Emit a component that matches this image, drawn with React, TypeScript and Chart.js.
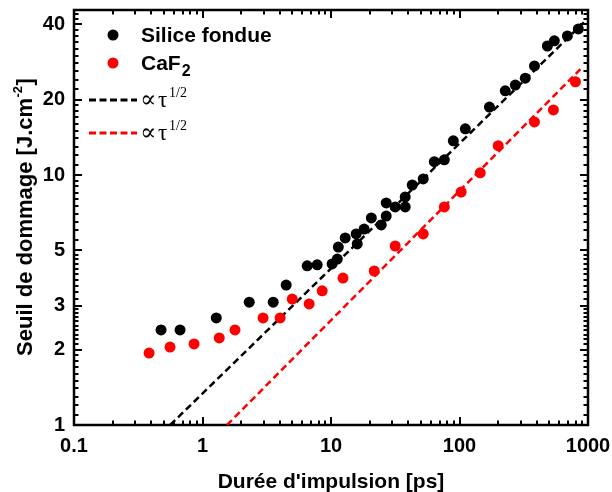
import React, { useEffect, useRef } from "react";
import { Chart, registerables } from "chart.js";
Chart.register(...registerables);

// ---- data ----
const silicaTau = [0.476, 0.669, 1.28, 2.31, 3.55, 4.48, 6.53, 7.81, 10.2, 11.2, 11.4, 12.9, 16.0, 15.7, 18.1, 20.6, 24.6, 26.9, 26.9, 31.6, 37.8, 37.8, 42.9, 52.2, 63.7, 76.2, 89.5, 111, 171, 227, 272, 325, 383, 483, 547, 691, 841];
const silicaF = [2.40, 2.40, 2.68, 3.10, 3.10, 3.63, 4.33, 4.37, 4.41, 4.61, 5.15, 5.60, 5.30, 5.81, 6.08, 6.73, 6.31, 6.85, 7.73, 7.45, 7.45, 8.17, 9.12, 9.64, 11.3, 11.5, 13.7, 15.3, 18.7, 21.7, 22.9, 24.4, 27.3, 32.8, 34.4, 36.0, 38.4];
const caf2Tau = [0.384, 0.559, 0.860, 1.35, 1.79, 2.96, 4.02, 4.99, 6.76, 8.54, 12.4, 21.7, 31.6, 52.2, 76.2, 103, 145, 200, 383, 538, 798];
const caf2F = [1.94, 2.05, 2.11, 2.23, 2.40, 2.68, 2.68, 3.19, 3.05, 3.44, 3.87, 4.13, 5.20, 5.81, 7.45, 8.55, 10.2, 13.1, 16.3, 18.2, 23.6];

const fitSilicaTau = [0.56, 930];
const fitSilicaF = [1.0, 40.8];
const fitCaf2Tau = [1.55, 873];
const fitCaf2F = [1.0, 26.5];

const xTicks = [0.1, 1, 10, 100, 1000];
const yTicks = [1, 2, 3, 5, 10, 20, 40];
const xMin = 0.1, xMax = 1000, yMin = 1, yMax = 45.7;

const seriesLabels = ["Silice fondue", "CaF", "2"];
const xTitle = "Durée d'impulsion [ps]";
const yTitleMain = "Seuil de dommage [J.cm";
const yTitleSup = "-2";
const yTitleEnd = "]";

function pts(xs: number[], ys: number[]) {
  return xs.map((x, i) => ({ x, y: ys[i] }));
}

function xMinorTicks() {
  const out: number[] = [];
  [0.1, 1, 10, 100].forEach((d) => {
    for (let m = 2; m <= 9; m++) out.push(d * m);
  });
  return out;
}
function yMinorTicks() {
  const out: number[] = [];
  const ranges: [number, number, number][] = [
    [1, 3, 0.1],
    [3, 5, 0.2],
    [5, 10, 0.5],
    [10, 20, 1],
    [20, 46, 2],
  ];
  ranges.forEach(([a, b, s]) => {
    const n = Math.round((b - a) / s);
    for (let i = 1; i < n; i++) {
      const v = +(a + i * s).toFixed(3);
      if (v < yMax && !yTicks.includes(v)) out.push(v);
    }
  });
  return out;
}

const SANS = "'Liberation Sans', Arial, sans-serif";
const SERIF = "'Liberation Serif', 'DejaVu Serif', 'Times New Roman', serif";

const framePlugin = {
  id: "frame",
  beforeDatasetsDraw(chart: any) {
    const { ctx, chartArea: a, scales } = chart;
    const xs = scales.x, ys = scales.y;
    ctx.save();
    ctx.strokeStyle = "#000";
    ctx.lineCap = "butt";
    const major = 8, minor = 4.5;
    const drawX = (v: number, len: number, w: number) => {
      const p = Math.round(xs.getPixelForValue(v));
      ctx.lineWidth = w;
      ctx.beginPath();
      ctx.moveTo(p, a.bottom); ctx.lineTo(p, a.bottom - len);
      ctx.moveTo(p, a.top); ctx.lineTo(p, a.top + len);
      ctx.stroke();
    };
    const drawY = (v: number, len: number, w: number) => {
      const p = Math.round(ys.getPixelForValue(v));
      ctx.lineWidth = w;
      ctx.beginPath();
      ctx.moveTo(a.left, p); ctx.lineTo(a.left + len, p);
      ctx.moveTo(a.right, p); ctx.lineTo(a.right - len, p);
      ctx.stroke();
    };
    xMinorTicks().forEach((v) => drawX(v, minor, 2));
    xTicks.forEach((v) => drawX(v, major, 2));
    yMinorTicks().forEach((v) => drawY(v, minor, 2));
    yTicks.forEach((v) => drawY(v, major, 2));
    ctx.lineWidth = 2.5;
    ctx.strokeRect(a.left, a.top, a.right - a.left, a.bottom - a.top);
    ctx.restore();
  },
  afterDraw(chart: any) {
    const { ctx, chartArea: a } = chart;
    ctx.save();
    ctx.fillStyle = "#000";
    // x title
    ctx.font = `bold 21px ${SANS}`;
    ctx.textAlign = "center";
    ctx.textBaseline = "alphabetic";
    ctx.fillText(xTitle, (a.left + a.right) / 2, 488);
    // y title (rotated)
    ctx.textAlign = "left";
    const mainFont = `bold 22px ${SANS}`;
    const supFont = `bold 13px ${SANS}`;
    ctx.font = mainFont;
    const w1 = ctx.measureText(yTitleMain).width;
    const w3 = ctx.measureText(yTitleEnd).width;
    ctx.font = supFont;
    const w2 = ctx.measureText(yTitleSup).width;
    const total = w1 + w2 + w3 + 1;
    ctx.save();
    ctx.translate(32, 217);
    ctx.rotate(-Math.PI / 2);
    let x0 = -total / 2;
    ctx.font = mainFont;
    ctx.fillText(yTitleMain, x0, 0);
    ctx.font = supFont;
    ctx.fillText(yTitleSup, x0 + w1 + 0.5, -10);
    ctx.font = mainFont;
    ctx.fillText(yTitleEnd, x0 + w1 + w2 + 1, 0);
    ctx.restore();

    // legend
    ctx.beginPath();
    ctx.fillStyle = "#000";
    ctx.arc(113, 35, 5.5, 0, Math.PI * 2);
    ctx.fill();
    ctx.beginPath();
    ctx.fillStyle = "#ff0000";
    ctx.arc(113, 63, 5.5, 0, Math.PI * 2);
    ctx.fill();
    ctx.fillStyle = "#000";
    ctx.font = `bold 21px ${SANS}`;
    ctx.fillText(seriesLabels[0], 141, 42);
    ctx.fillText(seriesLabels[1], 141, 70);
    const wc = ctx.measureText(seriesLabels[1]).width;
    ctx.font = `bold 16px ${SANS}`;
    ctx.fillText(seriesLabels[2], 141 + wc + 1, 76);

    const fitLabel = (y: number, color: string) => {
      ctx.save();
      ctx.strokeStyle = color;
      ctx.lineWidth = 3;
      ctx.setLineDash([7, 3.5]);
      ctx.beginPath();
      ctx.moveTo(89, y);
      ctx.lineTo(137, y);
      ctx.stroke();
      ctx.restore();
      ctx.fillStyle = "#000";
      ctx.font = `24px ${SERIF}`;
      ctx.fillText("\u221D", 140, y + 7);
      ctx.font = `23px ${SERIF}`;
      ctx.fillText("\u03C4", 158, y + 7);
      ctx.font = `14px ${SERIF}`;
      ctx.fillText("1/2", 169, y - 3);
    };
    fitLabel(100, "#000");
    fitLabel(133, "#ff0000");
    ctx.restore();
  },
};

export default function App() {
  const ref = useRef<HTMLCanvasElement>(null);
  useEffect(() => {
    document.body.style.margin = "0";
    const chart = new Chart(ref.current as HTMLCanvasElement, {
      type: "scatter",
      data: {
        datasets: [
          {
            label: "Silice fondue",
            data: pts(silicaTau, silicaF),
            backgroundColor: "#000",
            borderColor: "#000",
            pointRadius: 5.5,
            borderWidth: 0,
            showLine: false,
          },
          {
            label: "CaF2",
            data: pts(caf2Tau, caf2F),
            backgroundColor: "#ff0000",
            borderColor: "#ff0000",
            pointRadius: 5.5,
            borderWidth: 0,
            showLine: false,
          },
          {
            label: "fit silice",
            data: pts(fitSilicaTau, fitSilicaF),
            showLine: true,
            borderColor: "#000",
            borderWidth: 2.5,
            borderDash: [7, 4],
            pointRadius: 0,
            fill: false,
          },
          {
            label: "fit CaF2",
            data: pts(fitCaf2Tau, fitCaf2F),
            showLine: true,
            borderColor: "#ff0000",
            borderWidth: 2.5,
            borderDash: [7, 4],
            pointRadius: 0,
            fill: false,
          },
        ],
      },
      options: {
        animation: false,
        responsive: false,
        maintainAspectRatio: false,
        layout: { padding: { left: 0, right: 24, top: 10, bottom: 0 } },
        plugins: { legend: { display: false }, tooltip: { enabled: false } },
        scales: {
          x: {
            type: "logarithmic",
            min: xMin,
            max: xMax,
            grid: { display: false, drawTicks: false },
            border: { display: false },
            afterBuildTicks: (s: any) => {
              s.ticks = xTicks.map((v) => ({ value: v }));
            },
            afterFit: (s: any) => {
              s.height = 67;
              s.paddingLeft = 0;
              s.paddingRight = 0;
            },
            ticks: {
              autoSkip: false,
              maxRotation: 0,
              padding: 9,
              color: "#000",
              font: { family: SANS, weight: "bold", size: 20 },
              callback: (v: any) => String(v),
            },
          },
          y: {
            type: "logarithmic",
            min: yMin,
            max: yMax,
            grid: { display: false, drawTicks: false },
            border: { display: false },
            afterBuildTicks: (s: any) => {
              s.ticks = yTicks.map((v) => ({ value: v }));
            },
            afterFit: (s: any) => {
              s.width = 74;
              s.paddingTop = 0;
              s.paddingBottom = 0;
            },
            ticks: {
              autoSkip: false,
              padding: 9,
              color: "#000",
              font: { family: SANS, weight: "bold", size: 20 },
              callback: (v: any) => String(v),
            },
          },
        },
      },
      plugins: [framePlugin],
    } as any);
    return () => chart.destroy();
  }, []);
  return (
    <div style={{ width: 612, height: 492 }}>
      <canvas ref={ref} width={612} height={492} style={{ display: "block" }} />
    </div>
  );
}
